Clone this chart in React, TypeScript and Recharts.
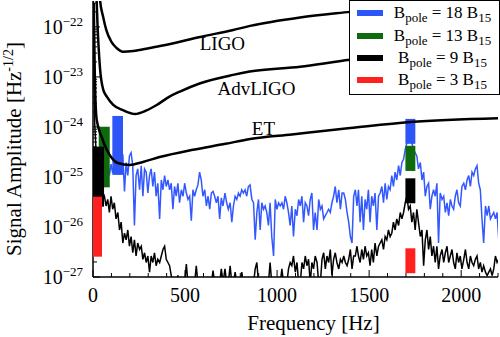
import React from "react";
import {
  ComposedChart,
  Line,
  Area,
  XAxis,
  YAxis,
  ReferenceDot,
  Legend,
} from "recharts";

const FONT = '"Liberation Serif", "Times New Roman", Times, serif';
const BLUE_LINE = "#3358ff";
const BLUE = "#2d55f7";
const GREEN = "#0d6a0d";
const RED = "#ff2020";
const BLACK = "#000000";

const W = 500;
const H = 337;
const X_MAX = 2200;
const Y_MIN = 1e-27;
const Y_MAX = 3.3e-22;

// field strengths (B_pole in units of B_15) and their colours
const fieldStrengths = [18, 13, 9, 3];
const fieldColors = [BLUE, GREEN, BLACK, RED];

// frequency band and amplitude range of each source, low-frequency and ~1.7 kHz peak
const lowBandHz = [[105, 163], [31, 91], [0, 60], [0, 49]];
const lowBandAmp = [[1.1e-25, 1.66e-24], [6.2e-26, 1.01e-24], [2.55e-26, 4.04e-25], [2.55e-27, 4.04e-26]];
const highBandHz = [1697, 1751];
const highBandAmp = [[4.6e-25, 1.45e-24], [1.32e-25, 4.2e-25], [2.98e-26, 9.4e-26], [1.19e-27, 3.75e-27]];

// detector sensitivity curves
const ligoHz = [30, 38, 55, 72, 100, 128, 163, 218, 309, 400, 582, 762, 853, 1125, 1397, 1700, 2200];
const ligoAmp = [1e-21, 3.5e-22, 1.6e-22, 8.7e-23, 5e-23, 3.8e-23, 3.2e-23, 3.3e-23, 3.8e-23, 4.4e-23, 6.3e-23, 8.7e-23, 1.05e-22, 1.55e-22, 2e-22, 2.6e-22, 3.5e-22];
const advHz = [15, 25, 38, 56, 76, 110, 165, 228, 291, 346, 418, 472, 579, 761, 851, 1125, 1397, 1700, 2200];
const advAmp = [1e-21, 1e-22, 1.5e-23, 5.5e-24, 4e-24, 2.75e-24, 2.15e-24, 1.82e-24, 2.15e-24, 2.75e-24, 4.1e-24, 5.1e-24, 7.4e-24, 1.1e-23, 1.28e-23, 1.6e-23, 2.2e-23, 2.7e-23, 3.6e-23];
const etHz = [4, 10, 20, 47, 75, 102, 134, 200, 271, 362, 543, 720, 853, 1080, 1397, 1723, 2200];
const etAmp = [3e-22, 1e-23, 1.4e-24, 6.3e-25, 3.5e-25, 2.4e-25, 1.9e-25, 1.74e-25, 2e-25, 2.5e-25, 3.5e-25, 4.6e-25, 5.75e-25, 7.1e-25, 9.5e-25, 1.26e-24, 1.5e-24];

const curveNames = ["LIGO", "AdvLIGO", "ET"];
const curveLabelHz = [703, 888, 926];
const curveLabelAmp = [4.7e-23, 5.9e-24, 9.3e-25];

// signal spectra
const freqHz = [
  1, 8, 17, 26, 35, 44, 53, 62, 71, 80, 89, 98, 107, 116, 125, 135, 144, 153, 162, 171, 180, 189, 198, 207, 216, 225,
  234, 243, 253, 262, 271, 280, 289, 298, 307, 316, 325, 334, 343, 352, 362, 371, 380, 389, 398, 407, 416, 425, 434,
  443, 452, 461, 470, 480, 489, 498, 507, 516, 525, 534, 543, 552, 561, 570, 579, 588, 597, 607, 616, 625, 634, 643,
  652, 661, 670, 679, 688, 697, 706,
  717, 726, 735, 745, 754, 763, 772, 781, 790, 799, 808, 817, 826, 835, 844, 853, 863, 872, 881, 890, 899, 908, 917,
  926, 935, 944, 953, 962, 971, 981, 990, 999, 1008, 1017, 1026, 1035, 1044, 1053, 1062, 1071, 1080, 1089, 1099, 1108,
  1117, 1126, 1135, 1144, 1153, 1162, 1171, 1180, 1189, 1198, 1207, 1217, 1226, 1235, 1244, 1253, 1262, 1271, 1280,
  1289, 1298, 1307, 1316, 1325, 1335, 1344, 1353, 1362, 1371, 1380, 1389, 1398, 1407, 1416, 1425, 1434,
  1442, 1451, 1460, 1469, 1478, 1487, 1496, 1505, 1514, 1523, 1532, 1542, 1551, 1560, 1569, 1578, 1587, 1596, 1605,
  1614, 1623, 1632, 1641, 1650, 1660, 1669, 1678, 1687, 1696, 1705, 1714, 1723, 1732, 1741, 1750, 1759, 1768, 1778,
  1787, 1796, 1805, 1814, 1823, 1832, 1841, 1850, 1859, 1868, 1877, 1886, 1896, 1905, 1914, 1923, 1932, 1941, 1950,
  1959, 1968, 1977, 1986, 1995, 2004, 2014, 2023, 2032, 2041, 2050, 2059, 2068, 2077, 2086, 2095, 2104, 2113, 2122,
  2132, 2141, 2150, 2159, 2168, 2177, 2186, 2195, 2204,
];

const blueSignal = [
  1.3e-25, 2.0e-25, 1.5e-25, 2.2e-25, 1.4e-25, 2.0e-25, 1.5e-25, 2.3e-25, 1.4e-25, 1.9e-25, 1.07e-25, 1.81e-25,
  1.2e-25, 2.0e-25, 1.5e-25, 2.5e-25, 1.8e-25, 2.2e-25, 2.83e-25, 5.15e-26, 1.95e-25, 1.07e-25, 2.63e-25, 3.05e-25,
  1.68e-25, 1.07e-26, 1.07e-25, 1.45e-25, 5.55e-26, 1.68e-25, 4.12e-26, 1.45e-25, 1.25e-25, 4.78e-26, 1.07e-25,
  1.45e-25, 6.45e-26, 1.25e-25, 4.12e-26, 7.5e-26, 1.45e-26, 8.71e-26, 5.55e-26, 1.07e-25, 6.45e-26, 8.71e-26,
  5.55e-26, 7.5e-26, 2.26e-26, 6.45e-26, 4.12e-26, 7.5e-26, 3.05e-26, 5.55e-26, 4.12e-26, 7.5e-26, 4.78e-26,
  3.55e-26, 4.12e-26, 1.34e-26, 5.55e-26, 4.12e-26, 5.55e-26, 6.95e-26, 1.25e-25, 8.71e-26, 4.12e-26, 5.55e-26,
  2.63e-26, 4.12e-26, 2.26e-26, 4.78e-26, 5.15e-26, 4.12e-26, 3.05e-26, 4.12e-26, 1.45e-26, 3.82e-26, 2.63e-26,
  4.78e-26, 3.05e-26, 2.26e-26, 3.05e-26, 1.25e-26, 2.63e-26, 4.12e-26, 3.55e-26, 4.78e-26, 4.12e-26, 5.55e-26,
  4.78e-26, 5.55e-26, 4.12e-26, 6.45e-26, 6.95e-26, 3.55e-26, 3.05e-26, 5.55e-27, 1.95e-26, 3.55e-26, 8.71e-27,
  3.05e-26, 2.26e-26, 2.63e-26, 1.95e-26, 1.07e-26, 3.05e-26, 6.45e-27, 2.63e-27, 3.55e-26, 2.26e-26, 3.05e-26,
  2.63e-26, 3.05e-26, 2.26e-26, 4.12e-26, 3.05e-26, 1.95e-26, 1.07e-26, 2.63e-26, 6.45e-27, 2.26e-26, 1.68e-26,
  3.55e-26, 2.63e-26, 4.12e-26, 1.25e-26, 3.05e-26, 2.63e-26, 1.68e-26, 3.55e-26, 4.78e-26, 8.71e-27, 1.95e-26,
  8.71e-27, 3.55e-26, 2.26e-26, 2.63e-26, 1.45e-26, 1.68e-26, 1.95e-26, 2.26e-26, 1.95e-26, 3.05e-26, 4.12e-26,
  6.45e-26, 3.05e-26, 5.55e-26, 2.26e-26, 4.78e-26, 4.78e-26, 3.55e-26, 1.95e-26, 1.25e-26, 6.45e-27, 4.78e-27,
  4.12e-26, 5.55e-26, 2.63e-26,
  5.55e-26, 1.25e-26, 4.12e-26, 8.71e-27, 3.55e-26, 2.26e-26, 5.55e-26, 1.25e-26, 4.12e-26, 2.63e-26, 4.78e-26,
  8.71e-27, 4.12e-26, 4.78e-26, 6.45e-26, 3.05e-26, 7.5e-26, 3.55e-26, 6.45e-26, 5.55e-26, 1.07e-25, 6.45e-26,
  1.25e-25, 8.71e-26, 1.68e-25, 1.07e-25, 1.95e-25, 2.26e-25, 3.55e-25, 4.78e-25, 5.55e-25, 6.45e-25, 4.78e-25,
  3.55e-25, 3.05e-25, 2.63e-25, 1.45e-25, 1.95e-25, 8.71e-26, 1.25e-25, 4.12e-26, 6.45e-26, 7.5e-26, 2.26e-26,
  4.12e-26, 5.55e-26, 4.12e-26, 7.5e-26, 4.78e-27, 4.78e-26, 3.55e-26, 4.12e-26, 1.95e-26, 3.05e-26, 1.68e-26,
  3.55e-26, 2.63e-26, 2.26e-26, 4.12e-26, 5.55e-26, 3.05e-26, 2.63e-26, 6.45e-26, 7.5e-26, 5.55e-26, 8.71e-26,
  1.07e-25, 6.45e-26, 1.25e-25, 1.07e-25, 1.45e-25, 1.68e-25, 7.5e-26, 5.55e-26, 1.45e-26, 4.78e-27, 2.63e-26,
  1.68e-26, 2.63e-26, 1.45e-26, 1.68e-26, 1.95e-26, 1.45e-26, 1.95e-26, 5.55e-27,
];

const blackSignal = [
  5e-22, 1.5e-24, 3e-25, 1.5e-25, 8e-26, 6e-26, 5e-26, 4.12e-26, 2.63e-26, 3.55e-26, 1.95e-26, 4.12e-26, 2.26e-26,
  3.05e-26, 1.45e-26, 1.95e-26, 8.71e-27, 1.25e-26, 4.78e-27, 7.5e-27, 5.55e-27, 8.71e-27, 4.12e-27, 6.45e-27,
  3.05e-27, 5.55e-27, 2.63e-27, 4.78e-27, 3.55e-27, 4.12e-27, 2.26e-27, 3.05e-27, 1.95e-27, 2.63e-27, 1.25e-27,
  2.63e-27, 1.95e-27, 3.05e-27, 1.68e-27, 2.26e-27, 1.95e-27, 2.63e-27, 3.55e-27, 4.12e-27, 2.26e-27, 1.95e-27,
  1.68e-27, 1.07e-27, 7.5e-28, 7.5e-28, 7.5e-28, 1.07e-27, 7.5e-28, 7.5e-28, 7.5e-28, 7.5e-28, 1.81e-27, 7.5e-28,
  7.5e-28, 7.5e-28, 7.5e-28, 7.5e-28, 1.68e-27, 7.5e-28, 7.5e-28, 7.5e-28, 8.71e-28, 7.5e-28, 7.5e-28, 7.5e-28,
  7.5e-28, 7.5e-28, 1.34e-27, 7.5e-28, 7.5e-28, 7.5e-28, 7.5e-28, 1.45e-27, 7.5e-28,
  1.45e-27, 7.5e-28, 7.5e-28, 1.68e-27, 7.5e-28, 7.5e-28, 1.25e-27, 7.5e-28, 7.5e-28, 7.5e-28, 1.25e-27, 7.5e-28,
  7.5e-28, 7.5e-28, 7.5e-28, 7.5e-28, 7.5e-28, 7.5e-28, 1.45e-27, 1.95e-27, 7.5e-28, 7.5e-28, 7.5e-28, 7.5e-28,
  7.5e-28, 7.5e-28, 7.5e-28, 1.95e-27, 7.5e-28, 7.5e-28, 7.5e-28, 7.5e-28, 7.5e-28, 7.5e-28, 1.45e-27, 7.5e-28,
  7.5e-28, 7.5e-28, 1.45e-27, 1.95e-27, 1.68e-27, 2.63e-27, 1.25e-27, 1.95e-27, 7.5e-28, 7.5e-28, 1.95e-27,
  1.45e-27, 2.63e-27, 1.68e-27, 2.26e-27, 7.5e-28, 1.95e-27, 1.45e-27, 2.63e-27, 1.95e-27, 7.5e-28, 7.5e-28,
  2.26e-27, 3.05e-27, 1.45e-27, 2.63e-27, 1.95e-27, 3.55e-27, 1.07e-27, 2.26e-27, 3.05e-27, 1.95e-27, 1.45e-27,
  2.26e-27, 1.95e-27, 2.63e-27, 1.95e-27, 1.68e-27, 2.26e-27, 3.55e-27, 1.45e-27, 2.63e-27, 2.63e-27, 4.12e-27,
  2.63e-27, 1.95e-27, 3.55e-27, 2.26e-27, 4.12e-27, 2.63e-27, 3.05e-27, 1.68e-27, 3.55e-27, 1.95e-27, 4.78e-27,
  2.63e-27, 4.12e-27, 4.78e-27, 5.55e-27, 3.55e-27, 6.45e-27, 5.55e-27, 8.71e-27, 6.45e-27, 7.5e-27, 1.25e-26,
  8.71e-27, 1.45e-26, 1.07e-26, 1.95e-26, 1.45e-26, 1.95e-26, 3.05e-26, 4.12e-26, 2.26e-26, 2.63e-26, 1.25e-26,
  1.95e-26, 8.71e-27, 2.26e-26, 1.25e-26, 6.45e-27, 8.71e-27, 1.68e-27, 5.55e-27, 8.71e-27, 3.55e-27, 6.45e-27,
  2.63e-27, 4.12e-27, 1.95e-27, 4.12e-27, 1.45e-27, 2.63e-27, 3.55e-27, 1.95e-27, 3.05e-27, 4.12e-27, 1.95e-27,
  2.63e-27, 3.55e-27, 1.95e-27, 1.45e-27, 3.05e-27, 1.95e-27, 2.63e-27, 1.45e-27, 2.26e-27, 3.55e-27, 1.95e-27,
  1.45e-27, 2.63e-27, 1.95e-27, 1.68e-27, 2.26e-27, 2.63e-27, 1.45e-27, 1.95e-27, 1.25e-27, 1.68e-27, 1.25e-27,
  1.07e-27, 1.25e-27, 1.45e-27, 1.07e-27, 1.45e-27, 2.63e-27, 1.95e-27, 2.26e-27,
];

const xTicks = [0, 100, 200, 300, 400, 500, 600, 700, 800, 900, 1000, 1100, 1200, 1300, 1400, 1500, 1600, 1700, 1800, 1900, 2000, 2100, 2200];
const yDecades = [1e-27, 1e-26, 1e-25, 1e-24, 1e-23, 1e-22];
const yTicks = yDecades
  .flatMap((d) => [1, 2, 3, 4, 5, 6, 7, 8, 9].map((m) => m * d))
  .filter((v) => v <= Y_MAX);

function isDecade(v: number) {
  const e = Math.floor(Math.log10(v) + 1e-9);
  return Math.abs(v / Math.pow(10, e) - 1) < 1e-6;
}

function BottomTick({ x, y, payload }: any) {
  const major = payload.value % 500 === 0;
  return (
    <g>
      <line x1={x} x2={x} y1={y} y2={y - (major ? 7 : 4)} stroke="#000" strokeWidth={1} />
      {major && (
        <text x={x} y={y + 25} textAnchor="middle" fontFamily={FONT} fontSize={20} fill="#000">
          {payload.value}
        </text>
      )}
    </g>
  );
}

function TopTick({ x, y, payload }: any) {
  const major = payload.value % 500 === 0;
  return <line x1={x} x2={x} y1={y} y2={y + (major ? 7 : 4)} stroke="#000" strokeWidth={1} />;
}

function LeftTick({ x, y, payload }: any) {
  const major = isDecade(payload.value);
  const exp = Math.round(Math.log10(payload.value));
  return (
    <g>
      <line x1={x} x2={x + (major ? 7 : 4)} y1={y} y2={y} stroke="#000" strokeWidth={1} />
      {major && (
        <text x={x - 10} y={y + 7} textAnchor="end" fontFamily={FONT} fontSize={20} fill="#000">
          10
          <tspan dy={-8} fontSize={13}>
            {"\u2212" + String(-exp)}
          </tspan>
        </text>
      )}
    </g>
  );
}

function RightTick({ x, y, payload }: any) {
  const major = isDecade(payload.value);
  return <line x1={x} x2={x - (major ? 7 : 4)} y1={y} y2={y} stroke="#000" strokeWidth={1} />;
}

function XTitle(props: any) {
  const { x, y, width } = props.viewBox;
  return (
    <text x={x + width / 2 + 18} y={y + 53} textAnchor="middle" fontFamily={FONT} fontSize={21} fill="#000">
      Frequency [Hz]
    </text>
  );
}

function YTitle() {
  return (
    <text
      x={21}
      y={149}
      transform="rotate(-90, 21, 149)"
      textAnchor="middle"
      fontFamily={FONT}
      fontSize={21}
      fill="#000"
    >
      Signal Amplitude [Hz
      <tspan dy={-8} fontSize={14}>
        -1/2
      </tspan>
      <tspan dy={8}>]</tspan>
    </text>
  );
}

const subStyle: React.CSSProperties = { fontSize: 13, position: "relative", top: 4 };

function LegendBox() {
  return (
    <div
      style={{
        width: 151,
        height: 95,
        boxSizing: "border-box",
        border: "1.5px solid #000",
        background: "#fff",
        fontFamily: FONT,
        fontSize: 17,
        color: "#000",
        paddingTop: 1,
      }}
    >
      {fieldStrengths.map((b, i) => (
        <div key={b} style={{ display: "flex", alignItems: "center", height: 22.4, lineHeight: "17px" }}>
          <div style={{ width: 26, height: 6, background: fieldColors[i], marginLeft: 7, flex: "none" }} />
          <div style={{ flex: 1, textAlign: "center", whiteSpace: "nowrap", paddingLeft: 3 }}>
            B<span style={subStyle}>pole</span> = {b} B<span style={subStyle}>15</span>
          </div>
        </div>
      ))}
    </div>
  );
}

const layer: React.CSSProperties = { position: "absolute", left: 0, top: 0 };

export default function App() {
  const spectra = freqHz.map((f, i) => ({ f, blue: blueSignal[i], black: blackSignal[i] }));
  const toCurve = (hz: number[], amp: number[]) => hz.map((f, i) => ({ f, amp: amp[i] }));
  const curves = [toCurve(ligoHz, ligoAmp), toCurve(advHz, advAmp), toCurve(etHz, etAmp)];
  const toBand = (hz: number[], amp: number[]) => hz.map((f) => ({ f, range: amp }));
  const bands = fieldStrengths.flatMap((b, i) => [
    { key: "low" + b, color: fieldColors[i], data: toBand(lowBandHz[i], lowBandAmp[i]) },
    { key: "high" + b, color: fieldColors[i], data: toBand(highBandHz, highBandAmp[i]) },
  ]);
  const frame = { stroke: "#000", strokeWidth: 1.5 };

  return (
    <div style={{ position: "absolute", left: 0, top: 0, width: W, height: H, background: "#fff" }}>
      {/* bottom layer: frame, ticks and the two signal spectra */}
      <div style={layer}>
        <ComposedChart width={W} height={H} data={spectra} margin={{ top: 1, right: 2, bottom: 0, left: 0 }}>
          <XAxis
            type="number"
            dataKey="f"
            domain={[0, X_MAX]}
            allowDataOverflow
            ticks={xTicks}
            interval={0}
            tick={<BottomTick />}
            tickLine={false}
            tickSize={0}
            tickMargin={0}
            height={60}
            axisLine={frame}
            label={XTitle}
          />
          <XAxis
            xAxisId="top"
            orientation="top"
            type="number"
            domain={[0, X_MAX]}
            allowDataOverflow
            ticks={xTicks}
            interval={0}
            tick={<TopTick />}
            tickLine={false}
            tickSize={0}
            tickMargin={0}
            height={0}
            axisLine={frame}
          />
          <YAxis
            scale="log"
            type="number"
            domain={[Y_MIN, Y_MAX]}
            allowDataOverflow
            ticks={yTicks}
            interval={0}
            tick={<LeftTick />}
            tickLine={false}
            tickSize={0}
            tickMargin={0}
            width={93}
            axisLine={frame}
            label={YTitle}
          />
          <YAxis
            yAxisId="right"
            orientation="right"
            scale="log"
            type="number"
            domain={[Y_MIN, Y_MAX]}
            allowDataOverflow
            ticks={yTicks}
            interval={0}
            tick={<RightTick />}
            tickLine={false}
            tickSize={0}
            tickMargin={0}
            width={0}
            axisLine={frame}
          />
          <Line dataKey="blue" type="linear" stroke={BLUE_LINE} strokeWidth={1.5} dot={false} isAnimationActive={false} />
          <Line dataKey="black" type="linear" stroke={BLACK} strokeWidth={1.5} dot={false} isAnimationActive={false} />
        </ComposedChart>
      </div>

      {/* top layer: source bands, detector curves, labels and legend */}
      <div style={layer}>
        <ComposedChart width={W} height={H} data={[]} margin={{ top: 1, right: 2, bottom: 60, left: 93 }}>
          <XAxis type="number" dataKey="f" domain={[0, X_MAX]} allowDataOverflow hide />
          <YAxis scale="log" type="number" domain={[Y_MIN, Y_MAX]} allowDataOverflow hide />

          {bands.map((band) => (
            <Area
              key={band.key}
              data={band.data}
              dataKey="range"
              type="linear"
              stroke="none"
              fill={band.color}
              fillOpacity={1}
              dot={false}
              activeDot={false}
              isAnimationActive={false}
            />
          ))}

          {curves.map((c, i) => (
            <Line
              key={curveNames[i]}
              data={c}
              dataKey="amp"
              type="monotone"
              stroke="#000"
              strokeWidth={2.5}
              dot={false}
              isAnimationActive={false}
            />
          ))}

          {curveNames.map((name, i) => (
            <ReferenceDot
              key={"lbl" + name}
              x={curveLabelHz[i]}
              y={curveLabelAmp[i]}
              r={0}
              fill="none"
              stroke="none"
              label={{ value: name, position: "center", fontFamily: FONT, fontSize: 19, fill: "#000" }}
            />
          ))}

          <Legend
            content={() => <LegendBox />}
            layout="horizontal"
            verticalAlign="middle"
            align="center"
            wrapperStyle={{ top: 0, left: 349, width: 151, height: 95 }}
          />
        </ComposedChart>
      </div>
    </div>
  );
}
